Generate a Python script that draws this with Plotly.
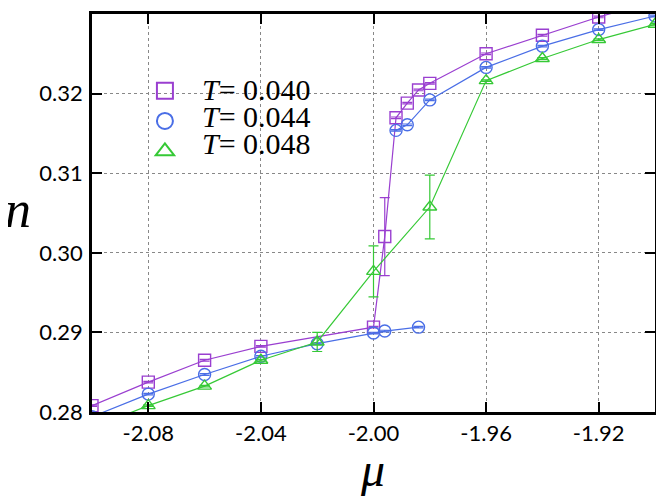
import plotly.graph_objects as go

# T = 0.040 (purple squares)
mu_040 = [-2.10, -2.08, -2.06, -2.04, -2.00, -1.996, -1.992, -1.988, -1.984, -1.980, -1.96, -1.94, -1.92, -1.90]
n_040 = [0.2808, 0.28375, 0.2865, 0.28825, 0.29066, 0.30204, 0.31696, 0.3188, 0.32046, 0.32129, 0.3250, 0.32733, 0.32963, 0.3316]
e_040 = [0.0001, 0.0001, 0.0001, 0.0001, 0.0001, 0.0049, 0.0001, 0.0001, 0.0001, 0.0001, 0.0001, 0.0001, 0.0001, 0.0001]

# T = 0.044 (blue circles) - lower branch and upper branch
mu_044_lo = [-2.10, -2.08, -2.06, -2.04, -2.02, -2.00, -1.996, -1.984]
n_044_lo = [0.2794, 0.28225, 0.28471, 0.2870, 0.28858, 0.28992, 0.29017, 0.29066]
mu_044_hi = [-1.992, -1.988, -1.980, -1.96, -1.94, -1.92, -1.90]
n_044_hi = [0.31538, 0.31608, 0.31921, 0.32329, 0.32596, 0.32804, 0.32975]

# T = 0.048 (green triangles)
mu_048 = [-2.10, -2.08, -2.06, -2.04, -2.02, -2.00, -1.98, -1.96, -1.94, -1.92, -1.90]
n_048 = [0.2780, 0.2808, 0.28325, 0.2865, 0.2888, 0.29767, 0.30575, 0.32163, 0.32441, 0.32679, 0.32871]
e_048 = [0.0001, 0.0001, 0.0001, 0.0001, 0.0012, 0.0032, 0.0040, 0.0001, 0.0001, 0.0001, 0.0001]

x_ticks = [-2.08, -2.04, -2.00, -1.96, -1.92]
y_ticks = [0.28, 0.29, 0.30, 0.31, 0.32, 0.33]
legend_labels = ["<i>T</i>= 0.040", "<i>T</i>= 0.044", "<i>T</i>= 0.048"]

PURPLE = "#9a3fd0"
BLUE = "#4a6ee6"
GREEN = "#36c936"

fig = go.Figure()

def add(x, y, err, color, symbol):
    fig.add_trace(go.Scatter(
        x=x, y=y, mode="lines+markers", showlegend=False,
        line=dict(color=color, width=1.2),
        marker=dict(symbol=symbol, size=12, color=color,
                    line=dict(color=color, width=1.4)),
        error_y=dict(type="data", array=err, color=color, thickness=1.2, width=5),
    ))

def add_legend(color, symbol):
    fig.add_trace(go.Scatter(
        x=[None], y=[None], mode="markers", name=" ", showlegend=True,
        marker=dict(symbol=symbol, size=16, color=color,
                    line=dict(color=color, width=2)),
    ))

add(mu_040, n_040, e_040, PURPLE, "square-open")
add(mu_044_lo, n_044_lo, [0.0001] * len(mu_044_lo), BLUE, "circle-open")
add(mu_044_hi, n_044_hi, [0.0001] * len(mu_044_hi), BLUE, "circle-open")
add(mu_048, n_048, e_048, GREEN, "triangle-up-open")

add_legend(PURPLE, "square-open")
add_legend(BLUE, "circle-open")
add_legend(GREEN, "triangle-up-open")

axis_common = dict(
    showline=True, linecolor="black", linewidth=2.5, mirror="allticks",
    ticks="inside", ticklen=10, tickwidth=2, tickcolor="black",
    showgrid=True, gridcolor="#888888", griddash="dot", gridwidth=1,
    zeroline=False,
    tickfont=dict(family="Lato, sans-serif", size=22, color="black"),
)

fig.update_xaxes(range=[-2.10, -1.90], tickvals=x_ticks,
                 ticktext=[f"{v:.2f}" for v in x_ticks], ticklabelstandoff=0, **axis_common)
fig.update_yaxes(range=[0.28, 0.33], tickvals=y_ticks,
                 ticktext=[f"{v:.2f}" for v in y_ticks], ticklabelstandoff=2, **axis_common)

fig.add_annotation(text="<i>n</i>", xref="paper", yref="paper", x=-0.158, y=0.51,
                   xanchor="left", yanchor="middle", showarrow=False,
                   font=dict(family="Liberation Serif, serif", size=52, color="black"))
fig.add_annotation(text="<i>μ</i>", xref="paper", yref="paper", x=0.499, y=-0.145,
                   xanchor="center", yanchor="middle", showarrow=False,
                   font=dict(family="Liberation Serif, serif", size=48, color="black"))

label_y = [0.811, 0.742, 0.674]
for lab, yy in zip(legend_labels, label_y):
    fig.add_annotation(text=lab, xref="paper", yref="paper", x=0.192, y=yy,
                       xanchor="left", yanchor="middle", showarrow=False,
                       font=dict(family="Liberation Serif, serif", size=30, color="black"))

fig.update_layout(
    width=664, height=499,
    margin=dict(l=84, r=17, t=3, b=95),
    plot_bgcolor="white", paper_bgcolor="white",
    legend=dict(x=0.094, y=0.858, xanchor="left", yanchor="top",
                bgcolor="rgba(0,0,0,0)", borderwidth=0,
                font=dict(family="Liberation Serif, serif", size=21, color="black"),
                itemsizing="trace", tracegroupgap=0, itemwidth=30),
)

fig.write_html("out.html")
